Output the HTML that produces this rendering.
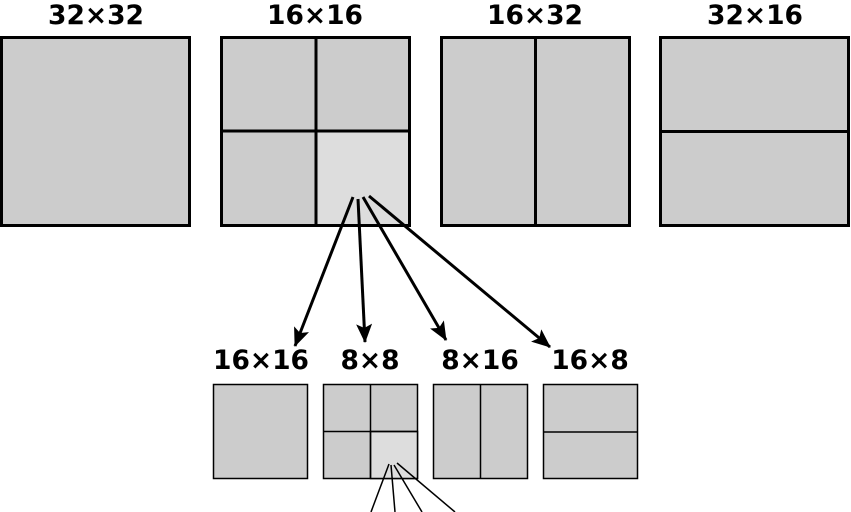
<!DOCTYPE html>
<html><head><style>body{margin:0;background:#fff}svg{display:block}</style></head><body>
<svg width="851" height="512" viewBox="0 0 851 512" xmlns="http://www.w3.org/2000/svg">
<defs><marker id="ah" markerWidth="20" markerHeight="16" refX="18" refY="8" orient="auto" markerUnits="userSpaceOnUse"><path d="M0,0 L19,8 L0,16 L4,8z" fill="#000"/></marker></defs>
<g font-family="DejaVu Sans, Liberation Sans, sans-serif" font-weight="bold" font-size="26.5" text-anchor="middle" fill="#000">
<text x="96" y="24">32×32</text><text x="315" y="24">16×16</text><text x="535" y="24">16×32</text><text x="755" y="24">32×16</text>
<text x="261" y="369">16×16</text><text x="370" y="369">8×8</text><text x="480" y="369">8×16</text><text x="590" y="369">16×8</text>
</g>
<g stroke="#000" stroke-width="3" fill="#cccccc">
<rect x="1.5" y="37.5" width="188" height="188"/>
<rect x="221.5" y="37.5" width="188" height="188"/>
<rect x="316" y="131" width="93" height="94" fill="#dddddd" stroke="none"/>
<line x1="316" y1="37" x2="316" y2="226"/><line x1="221" y1="131" x2="410" y2="131"/>
<rect x="221.5" y="37.5" width="188" height="188" fill="none"/>
<rect x="441.5" y="37.5" width="188" height="188"/><line x1="535.5" y1="37" x2="535.5" y2="226"/>
<rect x="660.5" y="37.5" width="188" height="188"/><line x1="660" y1="131.5" x2="849" y2="131.5"/>
</g>
<g stroke="#000" stroke-width="1.5" fill="#cccccc">
<rect x="213.5" y="384.5" width="94" height="94"/>
<rect x="323.5" y="384.5" width="94" height="94"/>
<rect x="370.5" y="431.5" width="47" height="47" fill="#dddddd"/>
<line x1="370.5" y1="384" x2="370.5" y2="479"/><line x1="323" y1="431.5" x2="418" y2="431.5"/>
<rect x="433.5" y="384.5" width="94" height="94"/><line x1="480.5" y1="384" x2="480.5" y2="479"/>
<rect x="543.5" y="384.5" width="94" height="94"/><line x1="543" y1="432" x2="638" y2="432"/>
</g>
<g stroke="#000" stroke-width="3" marker-end="url(#ah)">
<line x1="353" y1="197" x2="295" y2="346"/>
<line x1="358" y1="199" x2="365" y2="342"/>
<line x1="363" y1="197" x2="446" y2="340"/>
<line x1="369" y1="196" x2="550" y2="347"/>
</g>
<g stroke="#000" stroke-width="1.5">
<line x1="389" y1="464" x2="371" y2="512"/>
<line x1="391" y1="465" x2="395" y2="512"/>
<line x1="394" y1="465" x2="422" y2="512"/>
<line x1="397" y1="463" x2="455" y2="512"/>
</g>
</svg>
</body></html>
